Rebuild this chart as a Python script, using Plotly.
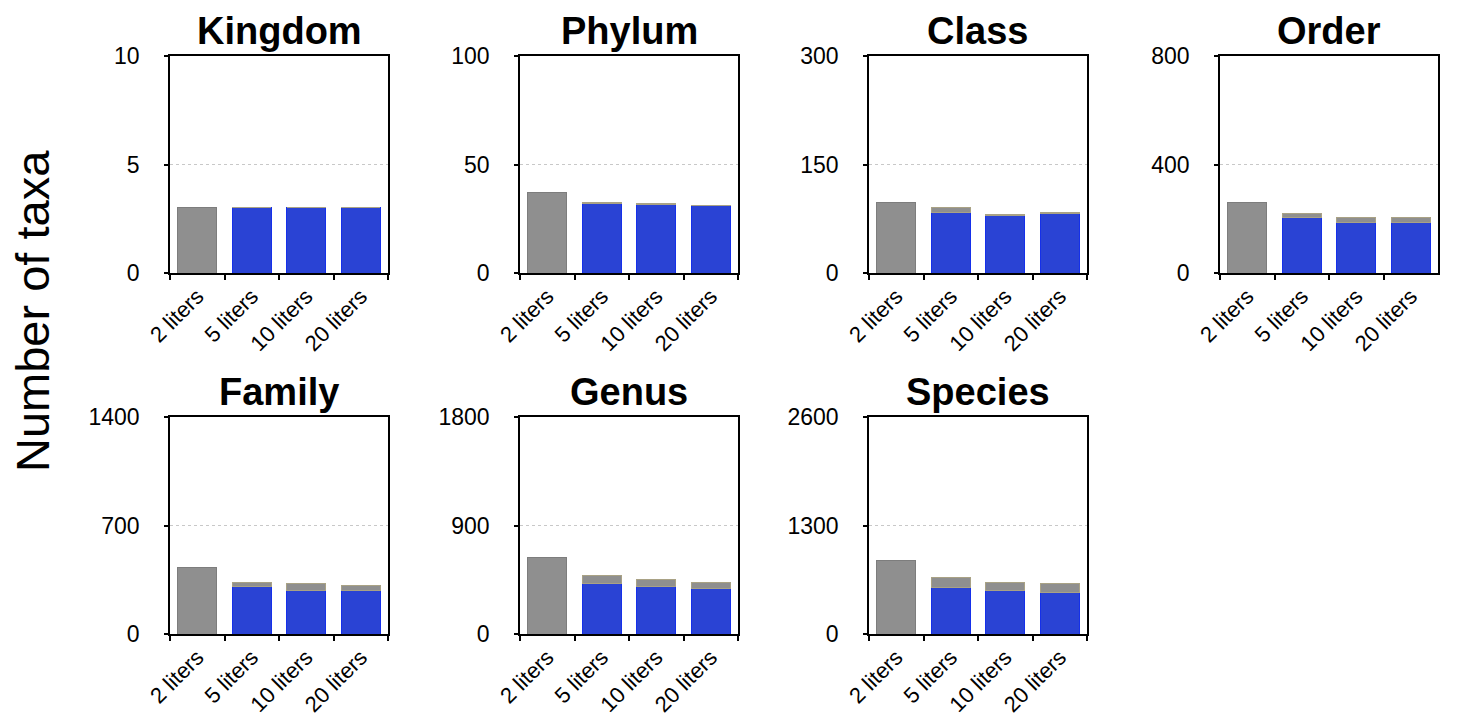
import plotly.graph_objects as go

W, H = 1458, 717

levels = ["Kingdom", "Phylum", "Class", "Order", "Family", "Genus", "Species"]
volumes = ["2 liters", "5 liters", "10 liters", "20 liters"]
y_max = [10, 100, 300, 800, 1400, 1800, 2600]

# total taxa detected with 2 liters
total_2l = [3, 37, 97, 260, 432, 636, 878]

# blue part (taxa shared) for 5, 10, 20 liters
shared_kingdom = [3, 3, 3]
shared_phylum = [32, 31.5, 31]
shared_class = [84, 80, 82]
shared_order = [205, 187, 187]
shared_family = [305, 282, 282]
shared_genus = [420, 390, 376]
shared_species = [563, 523, 503]

# total taxa for 5, 10, 20 liters
total_kingdom = [3, 3, 3]
total_phylum = [32.6, 31.9, 31.1]
total_class = [91, 81.5, 83.4]
total_order = [218, 204, 204]
total_family = [335, 325, 314]
total_genus = [487, 454, 429]
total_species = [679, 623, 603]

shared = [shared_kingdom, shared_phylum, shared_class, shared_order,
          shared_family, shared_genus, shared_species]
totals = [total_kingdom, total_phylum, total_class, total_order,
          total_family, total_genus, total_species]

GRAY = "#8f8f8f"
GRAY_LINE = "#7d7d7d"
BLUE = "#2a43d4"
BLUE_LINE = "#1530ea"
TAN_LINE = "#a9a285"

col_left = [170, 520, 869, 1220]
panel_w = 218
row_top = [56, 417]
panel_h = 217

positions = [(0, 0), (0, 1), (0, 2), (0, 3), (1, 0), (1, 1), (1, 2)]

fig = go.Figure()
layout = {}
annotations = []

for i, lvl in enumerate(levels):
    r, c = positions[i]
    n = i + 1
    xa = "x" if n == 1 else f"x{n}"
    ya = "y" if n == 1 else f"y{n}"
    x0 = col_left[c] / W
    x1 = (col_left[c] + panel_w) / W
    y1 = 1 - row_top[r] / H
    y0 = 1 - (row_top[r] + panel_h) / H

    base_vals = [total_2l[i]] + shared[i]
    top_vals = [None] + [t - s for t, s in zip(totals[i], shared[i])]

    fig.add_trace(go.Bar(
        x=volumes, y=base_vals, xaxis=xa, yaxis=ya,
        marker=dict(color=[GRAY, BLUE, BLUE, BLUE],
                    line=dict(color=[GRAY_LINE, BLUE_LINE, BLUE_LINE, BLUE_LINE], width=1)),
        showlegend=False, hoverinfo="x+y",
    ))
    fig.add_trace(go.Bar(
        x=volumes, y=top_vals, xaxis=xa, yaxis=ya,
        marker=dict(color=GRAY, line=dict(color=TAN_LINE, width=1)),
        showlegend=False, hoverinfo="x+y",
    ))

    xkey = "xaxis" if n == 1 else f"xaxis{n}"
    ykey = "yaxis" if n == 1 else f"yaxis{n}"
    layout[xkey] = dict(
        domain=[x0, x1], anchor=ya, type="category", automargin=False,
        categoryorder="array", categoryarray=volumes,
        showline=True, linecolor="black", linewidth=1.5, mirror=True,
        ticks="outside", ticklen=5, tickwidth=1.5, tickcolor="black",
        tickson="boundaries", tickangle=-45, showgrid=False,
        tickfont=dict(family="Liberation Sans, Arial", size=22, color="black"),
        fixedrange=True,
    )
    ym = y_max[i]
    layout[ykey] = dict(
        domain=[y0, y1], anchor=xa, range=[0, ym], automargin=False,
        tickvals=[0, ym / 2, ym], ticktext=[str(0), str(int(ym / 2)), str(ym)],
        showline=True, linecolor="black", linewidth=1.5, mirror=True,
        ticks="outside", ticklen=4, tickwidth=1.5, tickcolor="black",
        showgrid=True, gridcolor="#c8c8c8", gridwidth=1, griddash="dot",
        zeroline=False, ticklabelstandoff=20,
        tickfont=dict(family="Liberation Sans, Arial", size=23, color="black"),
        fixedrange=True,
    )
    title_y = [31, 392][r]
    annotations.append(dict(
        text=f"<b>{lvl}</b>", xref="paper", yref="paper",
        x=(x0 + x1) / 2, y=1 - title_y / H, xanchor="center", yanchor="middle",
        showarrow=False,
        font=dict(family="Liberation Sans, Arial", size=38, color="black"),
    ))

annotations.append(dict(
    text="Number of taxa", xref="paper", yref="paper",
    x=32 / W, y=1 - 311 / H, xanchor="center", yanchor="middle",
    textangle=-90, showarrow=False,
    font=dict(family="Liberation Sans, Arial", size=47, color="black"),
))

fig.update_layout(
    **layout,
    annotations=annotations,
    barmode="stack", bargap=0.28,
    width=W, height=H,
    margin=dict(l=0, r=0, t=0, b=0),
    paper_bgcolor="white", plot_bgcolor="white",
    showlegend=False,
)

fig.write_html("out.html", config={"displayModeBar": False})
